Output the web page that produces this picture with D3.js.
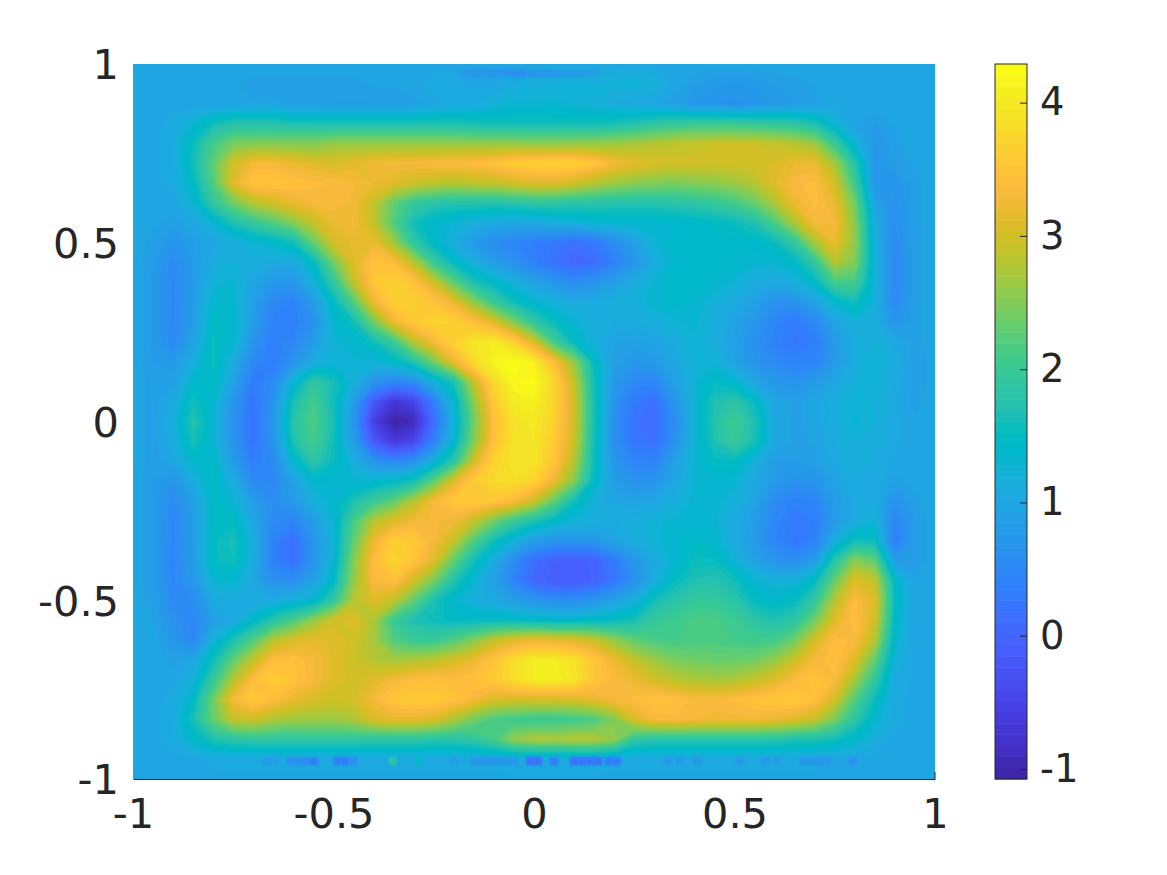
<!DOCTYPE html>
<html><head><meta charset="utf-8">
<script src="https://cdn.jsdelivr.net/npm/d3@7"></script>
<style>html,body{margin:0;padding:0;background:#fff}svg{display:block}text{font-family:"DejaVu Sans",sans-serif;fill:#262626}</style>
</head><body><svg id="c" width="1167" height="875"></svg>
<script>
const xTickValues=[-1,-0.5,0,0.5,1];
const xTickLabels=["-1","-0.5","0","0.5","1"];
const yTickValues=[-1,-0.5,0,0.5,1];
const yTickLabels=["-1","-0.5","0","0.5","1"];
const cbarTickValues=[-1,0,1,2,3,4];
const colorLimits=[-1.075,4.29];
const parula=[[.2422,.1504,.6603],[.2504,.165,.7076],[.2578,.1818,.7511],[.2647,.1978,.7952],[.2706,.2147,.8364],[.2751,.2342,.871],[.2783,.2559,.8991],[.2803,.2782,.9221],[.2813,.3006,.9414],[.281,.3228,.9579],[.2795,.3447,.9717],[.276,.3667,.9829],[.2699,.3892,.9906],[.2602,.4123,.9952],[.244,.4358,.9988],[.2206,.4603,.9973],[.1963,.4847,.9892],[.1834,.5074,.9798],[.1786,.5289,.9682],[.1764,.5499,.952],[.1687,.5703,.9359],[.154,.5902,.9218],[.146,.6091,.9079],[.138,.6276,.8973],[.1248,.6459,.8883],[.1113,.6635,.8763],[.0952,.6798,.8598],[.0689,.6948,.8394],[.0297,.7082,.8163],[.0036,.7203,.7917],[.0067,.7312,.766],[.0433,.7411,.7394],[.0964,.75,.712],[.1408,.7584,.6842],[.1717,.767,.6554],[.1938,.7758,.6251],[.2161,.7843,.5923],[.247,.7918,.5567],[.2906,.7973,.5188],[.3406,.8008,.4789],[.3909,.8029,.4354],[.4456,.8024,.3909],[.5044,.7993,.348],[.5616,.7942,.3045],[.6174,.7876,.2612],[.672,.7793,.2227],[.7242,.7698,.191],[.7738,.7598,.1646],[.8203,.7498,.1535],[.8634,.7406,.1596],[.9035,.733,.1774],[.9393,.7288,.21],[.9728,.7298,.2394],[.9956,.7434,.2371],[.997,.7659,.2199],[.9952,.7893,.2028],[.9892,.8136,.1885],[.9786,.8386,.1766],[.9676,.8639,.1643],[.961,.889,.1537],[.9597,.9135,.1423],[.9628,.9373,.1265],[.9691,.9606,.1064],[.9769,.9839,.0805]];
// field values, top row (y=1) to bottom row (y=-1), left (x=-1) to right (x=1)
const fieldValues=[
[1,1,1,1,1,1,1,1,1,1,1,1,1,1,1,1,1,1,1,1,1,1,1,1,1,1,1,1,1,1,1,1,1,1,1,1,1,1,1,1,1],
[1,1,1,.95,.95,.95,.9,.9,.9,.9,.9,.9,.95,.95,1,1.05,1.05,1,1,1.1,1.15,1.2,1.2,1.2,1.2,1.25,1.2,1,.85,.8,.75,.8,.85,.9,.95,1,1,1,1,1,1],
[1,1,1,.95,.95,.95,.95,.95,.9,.9,.85,.85,.85,.85,.9,1,1.05,1.1,1.2,1.3,1.3,1.3,1.25,1.2,1.1,1.05,1,.9,.75,.7,.65,.7,.8,.85,.9,1,1,1,1,1,1],
[1,1,1.05,1.3,1.6,1.75,1.75,1.75,1.7,1.7,1.7,1.7,1.7,1.7,1.7,1.7,1.7,1.65,1.6,1.6,1.6,1.6,1.6,1.6,1.65,1.75,1.85,1.95,2,2,2,1.95,1.9,1.85,1.7,1.3,.95,.85,.95,1,1],
[1,1,1.1,1.55,2.1,2.45,2.5,2.5,2.5,2.5,2.6,2.6,2.6,2.6,2.6,2.6,2.6,2.6,2.6,2.6,2.55,2.55,2.6,2.6,2.65,2.7,2.8,2.85,2.9,2.95,2.95,2.95,2.9,2.8,2.65,2,1.25,.75,.9,1,1],
[1,1,1.1,1.6,2.3,3,3.3,3.3,3.2,3.1,3.05,3.15,3.25,3.3,3.3,3.35,3.35,3.4,3.5,3.65,3.7,3.7,3.7,3.55,3.3,3.15,3.05,3,3,3,3,3,3.05,3.2,3.2,2.7,1.8,.75,.85,.95,1],
[1,1,1.05,1.45,2.2,3.1,3.5,3.5,3.45,3.4,3.35,3.3,3.2,3.1,2.95,2.85,2.8,2.85,2.9,3,3.1,3.1,3,2.8,2.65,2.55,2.5,2.45,2.5,2.55,2.65,2.8,3.1,3.35,3.4,3,2.05,.75,.7,.9,1],
[1,1,1,1.3,1.9,2.4,2.8,3,3.2,3.3,3.35,3.25,2.9,2.3,1.95,1.8,1.75,1.75,1.75,1.8,1.85,1.85,1.8,1.8,1.75,1.75,1.75,1.8,1.85,1.95,2.1,2.35,2.75,3.2,3.4,3.2,2.4,.95,.65,.9,1],
[1,.95,.9,1,1.3,1.7,1.95,2.2,2.5,2.9,3.2,3.3,2.9,2.2,1.6,1.4,1.25,1.15,1.05,1,1.05,1.15,1.2,1.3,1.35,1.35,1.35,1.35,1.4,1.45,1.55,1.7,2.15,2.75,3.3,3.3,2.55,1.1,.6,.9,1],
[1,.9,.7,.85,1,1.15,1.25,1.4,1.6,2.3,3,3.15,3.2,2.7,1.9,1.45,1.1,.8,.6,.45,.35,.25,.15,.25,.55,.9,1.25,1.4,1.42,1.42,1.4,1.4,1.55,1.9,2.7,3.2,2.6,1.15,.55,.9,1],
[1,.85,.55,.8,1.1,1.2,1.15,1.05,1.05,1.5,2.4,3.1,3.5,3.4,2.85,2,1.5,1.15,.85,.65,.4,.2,.05,.1,.4,.75,1.1,1.38,1.42,1.42,1.4,1.3,1.3,1.45,1.9,2.8,2.5,1.2,.5,.9,1],
[1,.8,.5,.8,1.25,1.3,1,.75,.75,1.2,1.9,2.85,3.55,3.7,3.5,3,2.3,1.7,1.45,1.2,.95,.75,.6,.7,.9,1.1,1.3,1.4,1.42,1.35,1.25,1.1,1.05,1.15,1.45,2.1,2.1,1.2,.5,.9,1],
[1,.8,.5,.85,1.35,1.35,.9,.5,.4,.85,1.45,2.2,3.2,3.65,3.65,3.5,3.2,2.6,2,1.6,1.35,1.2,1.1,1.1,1.15,1.2,1.32,1.4,1.35,1.2,1.05,.9,.65,.65,.95,1.35,1.6,1.2,.55,.9,1],
[1,.8,.5,.85,1.5,1.4,.85,.4,.35,.65,1.35,1.6,2.4,3.2,3.6,3.75,3.7,3.45,3.1,2.5,1.9,1.55,1.3,1.15,1.1,1.1,1.15,1.25,1.3,1.15,.95,.75,.45,.3,.5,.95,1.2,1.15,.7,.9,1],
[1,.8,.55,.95,1.55,1.35,.7,.35,.5,.85,1.25,1.35,1.6,2,2.8,3.3,3.7,3.95,4.05,3.7,3.05,2.1,1.5,1.15,.95,.9,.95,1.1,1.25,1.15,.9,.65,.4,.25,.35,.8,1.1,1.2,1.05,.9,1],
[1,.85,.8,1.15,1.55,1.1,.5,.35,.7,1.1,1.25,1.25,1.25,1.4,1.75,2.4,3.2,3.8,4.15,4.28,4.1,3.4,2.6,1.5,.9,.75,.8,1,1.25,1.25,.95,.7,.55,.4,.45,.8,1.15,1.25,1.15,.85,1],
[1,.9,.9,1.4,1.5,.95,.3,.55,1.3,1.9,1.65,1.2,.7,.5,.6,1.2,1.7,2.9,3.8,4.2,4.25,3.75,2.9,1.6,.8,.5,.5,.9,1.25,1.5,1.35,1,.75,.7,.8,1,1.2,1.25,1.1,.85,1],
[1,.9,1.05,1.6,1.35,.75,.2,.7,1.65,2.1,1.6,.85,-.15,-.7,-.5,.35,1.3,2.55,3.6,4.05,4.1,3.75,3,1.65,.7,.3,.15,.7,1.25,1.7,1.85,1.5,1,.9,1,1.15,1.25,1.2,1.05,.9,1],
[1,.9,1.15,1.75,1.3,.65,.2,.75,1.8,2.2,1.65,.75,-.55,-1.05,-.9,.1,1.2,2.4,3.45,3.9,4,3.7,3,1.65,.65,.2,.1,.6,1.25,1.75,2.05,1.7,1.05,.9,1,1.15,1.3,1.2,1.05,.95,1],
[1,.9,1.1,1.65,1.3,.7,.2,.7,1.7,2.1,1.6,.85,-.15,-.65,-.45,.4,1.35,2.5,3.5,3.9,3.95,3.6,2.95,1.6,.65,.25,.15,.65,1.25,1.7,2,1.65,1.05,.9,.95,1.1,1.2,1.15,1.05,.95,1],
[1,.9,1,1.4,1.45,.85,.35,.55,1.35,1.85,1.55,1.15,.7,.5,.65,1.2,1.85,3,3.7,3.95,3.95,3.55,2.8,1.55,.75,.45,.45,.9,1.3,1.5,1.5,1.2,.85,.85,.9,1.05,1.15,1.1,1,1,1],
[1,.85,.7,1.1,1.5,1.1,.55,.5,.95,1.4,1.35,1.3,1.35,1.45,1.65,2.3,3.1,3.6,3.8,3.85,3.7,3.2,2.5,1.45,.85,.65,.7,1,1.3,1.35,1.3,1.05,.8,.65,.7,.95,1.1,1.1,.9,1,1],
[1,.85,.55,.9,1.45,1.3,.85,.6,.8,1.15,1.35,1.7,2,2.3,2.8,3.3,3.55,3.6,3.55,3.35,2.95,2.3,1.6,1.2,1,.95,1,1.15,1.3,1.3,1.2,.95,.55,.4,.45,.85,1.05,1.1,.65,.9,1],
[1,.85,.5,.85,1.45,1.5,1,.55,.45,.85,1.3,2.1,2.8,3.1,3.25,3.3,3.25,2.9,2.4,2,1.7,1.45,1.25,1.15,1.1,1.15,1.25,1.3,1.35,1.3,1.1,.85,.5,.28,.35,.8,1.1,1.25,.45,.85,1],
[1,.85,.5,.85,1.5,1.65,1.15,.4,.15,.7,1.25,2.3,3.2,3.65,3.6,3.3,2.9,2.2,1.6,1.2,.85,.7,.7,.75,.95,1.1,1.25,1.35,1.45,1.35,1.1,.8,.45,.25,.4,1.15,1.6,1.55,.35,.85,1],
[1,.85,.45,.85,1.5,1.6,1.1,.4,.15,.7,1.3,2.5,3.4,3.75,3.5,3.1,2.3,1.6,1.1,.55,.15,-.05,-.1,-.05,.3,.75,1.05,1.35,1.55,1.55,1.25,.95,.7,.6,.85,1.8,2.55,2.3,.85,.85,1],
[1,.85,.5,.75,1.3,1.35,1,.65,.6,.9,1.45,2.6,3.35,3.45,3,2.45,1.75,1.3,.9,.45,.05,-.15,-.15,-.05,.25,.65,1.1,1.5,1.7,1.75,1.6,1.3,1.2,1.2,1.5,2.35,3.1,2.9,1.45,.95,1],
[1,.9,.55,.6,1.05,1.1,1.05,1.1,1.2,1.35,1.9,2.8,3.1,2.9,2.3,1.7,1.35,1.15,1.05,.85,.7,.6,.6,.7,.95,1.15,1.6,1.8,1.95,1.95,1.8,1.5,1.4,1.5,1.9,2.8,3.4,3.1,1.5,.95,1],
[1,.95,.65,.5,.9,1.05,1.4,1.8,2.15,2.6,3,3.1,2.75,2,1.7,1.55,1.5,1.5,1.5,1.5,1.45,1.4,1.4,1.45,1.5,1.65,1.95,2.05,2.15,2.15,2.05,1.85,1.7,1.85,2.4,3.1,3.45,3,1.45,.95,1],
[1,1,.75,.5,1.2,1.7,2.2,2.8,3.05,3.15,3.1,3,2.7,2.2,2,2,2.2,2.5,2.9,3.1,3.2,3.15,3.1,2.95,2.6,2.3,2.15,2.1,2.15,2.15,2.1,2.05,2.1,2.4,3,3.4,3.35,2.8,1.35,1,1],
[1,1,.9,1,1.6,2.3,2.9,3.4,3.45,3.3,3.1,2.95,2.8,2.7,2.75,2.85,3,3.2,3.5,3.85,4.05,4.05,3.9,3.55,3.2,2.9,2.65,2.45,2.4,2.35,2.35,2.4,2.6,2.95,3.3,3.45,3.1,2.3,1.2,1,1],
[1,1,1,1.2,1.95,2.8,3.4,3.65,3.5,3.3,3.1,3,3.1,3.3,3.4,3.45,3.4,3.45,3.6,3.85,4.05,4.1,3.95,3.55,3.35,3.2,3,2.85,2.75,2.7,2.75,2.9,3.1,3.35,3.5,3.35,2.7,1.9,1.1,1,1],
[1,1,1.05,1.45,2.4,3.3,3.6,3.4,3.2,3.05,2.95,3,3.3,3.55,3.6,3.6,3.5,3.3,3.05,3,3,3,3.05,3.15,3.3,3.4,3.5,3.45,3.35,3.35,3.4,3.5,3.55,3.6,3.45,3,2.2,1.55,1.05,1,1],
[1,1,1.1,1.65,2.35,2.9,2.95,2.75,2.65,2.65,2.65,2.75,3.05,3.15,3.15,3.05,2.75,2.4,2.15,2.05,2,2,2.05,2.15,2.5,3.05,3.3,3.35,3.3,3.25,3.25,3.25,3.2,3.1,2.9,2.45,1.85,1.35,1.05,1,1],
[1,1,1.1,1.4,1.7,1.85,1.9,1.9,1.9,1.9,1.9,1.9,1.85,1.85,1.85,1.8,1.8,1.9,2.15,2.6,2.75,2.75,2.8,2.8,2.6,1.9,1.8,1.8,1.8,1.8,1.8,1.8,1.8,1.7,1.7,1.6,1.4,1.15,1,1,1],
[1,1,1,1,1.05,1.05,1.05,1.05,1.05,1.05,1.05,1.05,1.05,1.05,1.05,1.05,1.05,1.05,1.05,1.1,1.1,1.1,1.1,1.1,1.05,1.05,1.05,1.05,1.05,1.05,1.05,1.05,1.05,1.05,1.05,1,1,1,1,1,1],
[1,1,1,1,1,1,1,1,1,1,1,1,1,1,1,1,1,1,1,1,1,1,1,1,1,1,1,1,1,1,1,1,1,1,1,1,1,1,1,1,1]
];
// thin noisy row just above the bottom edge
const lowerStripeX=[-.668,-.648,-.608,-.589,-.569,-.549,-.491,-.471,-.451,-.352,-.289,-.2,-.15,-.13,-.11,-.09,-.07,-.05,-.01,.01,.05,.1,.12,.14,.16,.187,.207,.334,.364,.406,.514,.576,.606,.673,.693,.713,.733,.796];
const lowerStripeV=[.85,.85,.65,.6,.55,.35,.35,.3,.6,1.8,1.5,.8,.75,.75,.7,.75,.7,.7,.15,.15,.3,.1,.1,.15,.1,.35,.35,.7,.75,.7,.7,.75,.8,.75,.75,.75,.75,.65];
const lowerStripeY=-0.95;
// thin row just under the top edge
const upperStripeX=[-.17,-.15,-.13,-.11,-.09,-.07,-.05,-.03,-.01,.01,.03,.05,.07,.09,.11,.13,.15];
const upperStripeV=[.8,.75,.75,.7,.7,.65,.6,.6,.7,.7,.75,.75,.8,.8,.8,.85,.9];
const upperStripeY=0.975;

const svg=d3.select("#c");
const plot={l:133,r:935,t:64,b:779};
const x=d3.scaleLinear().domain([-1,1]).range([plot.l,plot.r]);
const y=d3.scaleLinear().domain([-1,1]).range([plot.b,plot.t]);
const nRows=fieldValues.length,nCols=fieldValues[0].length;
const gx=d3.scaleLinear().domain([0.5,nCols-0.5]).range([plot.l,plot.r]);
const gy=d3.scaleLinear().domain([0.5,nRows-0.5]).range([plot.t,plot.b]);
const rgb=c=>d3.rgb(c[0]*255,c[1]*255,c[2]*255).formatHex();
const nBands=parula.length;
const level=d3.scaleLinear().domain([0,nBands]).range(colorLimits);
const bandOf=d3.scaleQuantize().domain(colorLimits).range(parula.map(rgb));

svg.append("defs").append("clipPath").attr("id","pc").append("rect")
  .attr("x",plot.l).attr("y",plot.t).attr("width",plot.r-plot.l).attr("height",plot.b-plot.t);
const img=svg.append("g").attr("clip-path","url(#pc)");
const thresholds=d3.range(nBands).map(level);
const conts=d3.contours().size([nCols,nRows]).smooth(true).thresholds(thresholds)(fieldValues.flat());
const path=d3.geoPath(d3.geoTransform({point(a,b){this.stream.point(gx(a),gy(b));}}));
img.selectAll("path.c").data(conts).join("path").attr("class","c")
  .attr("d",path).attr("fill",(d,i)=>rgb(parula[i]));

const cellW=x(0.02)-x(0);
const stripeH=y(0)-y(0.022);
img.selectAll("rect.low").data(lowerStripeX).join("rect").attr("class","low")
  .attr("x",d=>x(d)-cellW/2).attr("width",cellW).attr("y",y(lowerStripeY)-stripeH/2).attr("height",stripeH)
  .attr("fill",(d,i)=>bandOf(lowerStripeV[i])).style("filter","blur(1px)");
img.selectAll("rect.up").data(upperStripeX).join("rect").attr("class","up")
  .attr("x",d=>x(d)-cellW/2).attr("width",cellW).attr("y",y(upperStripeY)-stripeH/2).attr("height",stripeH)
  .attr("fill",(d,i)=>bandOf(upperStripeV[i])).style("filter","blur(1px)");

const fontSize=41.5;
const cbarFontSize=38.5;
const ax=svg.append("g").attr("transform",`translate(0,${plot.b})`)
  .call(d3.axisBottom(x).tickValues(xTickValues).tickFormat((d,i)=>xTickLabels[i]).tickSize(0).tickPadding(20));
ax.select(".domain").attr("stroke","#12313f").attr("stroke-width",1.2);
ax.selectAll("text").style("font-size",fontSize+"px").attr("fill","#262626");
svg.append("line").attr("x1",x(1)).attr("x2",x(1)).attr("y1",plot.b).attr("y2",plot.b-7).attr("stroke","#262626");

const ay=svg.append("g").attr("transform",`translate(${plot.l},1.5)`)
  .call(d3.axisLeft(y).tickValues(yTickValues).tickFormat((d,i)=>yTickLabels[i]).tickSize(0).tickPadding(14));
ay.select(".domain").remove();
ay.selectAll("text").style("font-size",fontSize+"px").attr("fill","#262626");

// colour bar
const cb={l:995,r:1027};
const cy=d3.scaleLinear().domain(colorLimits).range([plot.b,plot.t]);
svg.append("g").selectAll("rect").data(parula).join("rect")
  .attr("x",cb.l).attr("width",cb.r-cb.l)
  .attr("y",(d,i)=>cy(level(i+1))).attr("height",(d,i)=>cy(level(i))-cy(level(i+1))+0.5)
  .attr("fill",rgb);
svg.append("rect").attr("x",cb.l).attr("y",plot.t).attr("width",cb.r-cb.l).attr("height",plot.b-plot.t)
  .attr("fill","none").attr("stroke","#262626").attr("stroke-width",1);
const ac=svg.append("g").attr("transform",`translate(${cb.r},0)`)
  .call(d3.axisRight(cy).tickValues(cbarTickValues).tickFormat(d3.format("d")).tickSizeInner(-7).tickSizeOuter(0).tickPadding(13));
ac.select(".domain").remove();
ac.selectAll("line").attr("stroke","#262626");
ac.selectAll("text").style("font-size",cbarFontSize+"px").attr("fill","#262626").text(d=>String(d));
</script></body></html>
